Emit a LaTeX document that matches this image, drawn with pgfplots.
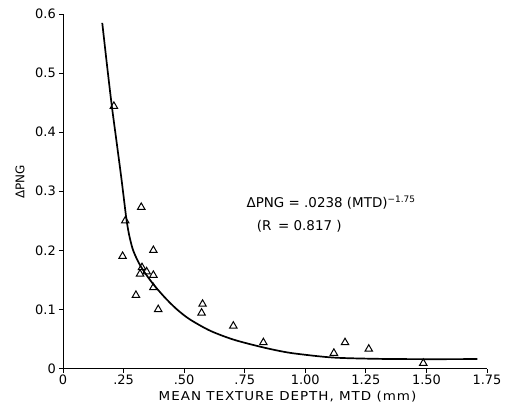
\documentclass[border=0pt]{standalone}
\usepackage{fontspec}
\setmainfont{DejaVu Sans}
\newfontfamily\lblfont{DejaVu Sans}[FakeStretch=1.1,LetterSpace=8]
\usepackage{pgfplots}
\pgfplotsset{compat=1.18}
\begin{document}
\begin{tikzpicture}
\begin{axis}[
  scale only axis, width=424bp, height=354.5bp,
  xmin=0, xmax=1.75, ymin=0, ymax=0.6,
  axis x line=bottom, axis y line=left,
  axis line style={-, line width=0.9bp, black},
  tick align=outside, major tick length=4bp,
  tick style={line width=0.9bp, black},
  xtick={0,0.25,0.5,0.75,1,1.25,1.5,1.75},
  xticklabels={0,.25,.50,.75,1.00,1.25,1.50,1.75},
  ytick={0,0.1,0.2,0.3,0.4,0.5,0.6},
  yticklabels={0,0.1,0.2,0.3,0.4,0.5,0.6},
  tick label style={font=\fontsize{13}{15}\selectfont},
  xticklabel style={inner sep=2.5bp},
  yticklabel style={inner sep=3bp},
  xlabel={MEAN TEXTURE DEPTH, MTD (mm)},
  xlabel style={font=\lblfont\fontsize{12.3}{14}\selectfont, at={(axis description cs:0.5295,0)}, yshift=-28bp, anchor=center},
  ylabel={ΔPNG},
  ylabel style={font=\fontsize{12}{14}\selectfont, at={(axis description cs:-0.1014,0.526)}, anchor=center},
  clip=false,
]
\addplot[black, line width=1.7bp, smooth, tension=0.5] coordinates {
(0.162,0.585) (0.182,0.512) (0.201,0.446) (0.221,0.384) (0.240,0.325)
(0.252,0.285) (0.262,0.252) (0.273,0.226) (0.287,0.203) (0.303,0.187)
(0.318,0.175) (0.338,0.162) (0.359,0.150) (0.380,0.139) (0.414,0.123)
(0.442,0.111) (0.476,0.098) (0.524,0.083) (0.607,0.064) (0.703,0.049)
(0.813,0.037) (0.896,0.0295) (0.964,0.025) (1.116,0.0185) (1.308,0.0163)
(1.515,0.0158) (1.710,0.016)
};
\addplot[only marks, mark=triangle, mark size=4.3bp, mark options={line width=1bp, fill=white, draw=black}] coordinates {
(0.210,0.444) (0.323,0.273) (0.257,0.250) (0.246,0.190) (0.373,0.200)
(0.326,0.171) (0.318,0.160) (0.345,0.164) (0.373,0.158) (0.373,0.137)
(0.301,0.124) (0.393,0.100) (0.576,0.109) (0.572,0.094) (0.703,0.072)
(0.827,0.044) (1.118,0.026) (1.164,0.044) (1.262,0.033) (1.487,0.009)
};
\node[anchor=base west, inner sep=0, font=\fontsize{13.5}{16}\selectfont] at (axis cs:0.757,0.2717) {ΔPNG = .0238 (MTD)\raisebox{5.4bp}{\fontsize{9}{10}\selectfont −1.75}};
\node[anchor=base west, inner sep=0, font=\fontsize{13.5}{16}\selectfont] at (axis cs:0.799,0.2344) {(R\enspace = 0.817 )};
\end{axis}
\path ([shift={(-63bp,-48.5bp)}]current axis.south west) rectangle ([shift={(22bp,14bp)}]current axis.north east);
\end{tikzpicture}
\end{document}
